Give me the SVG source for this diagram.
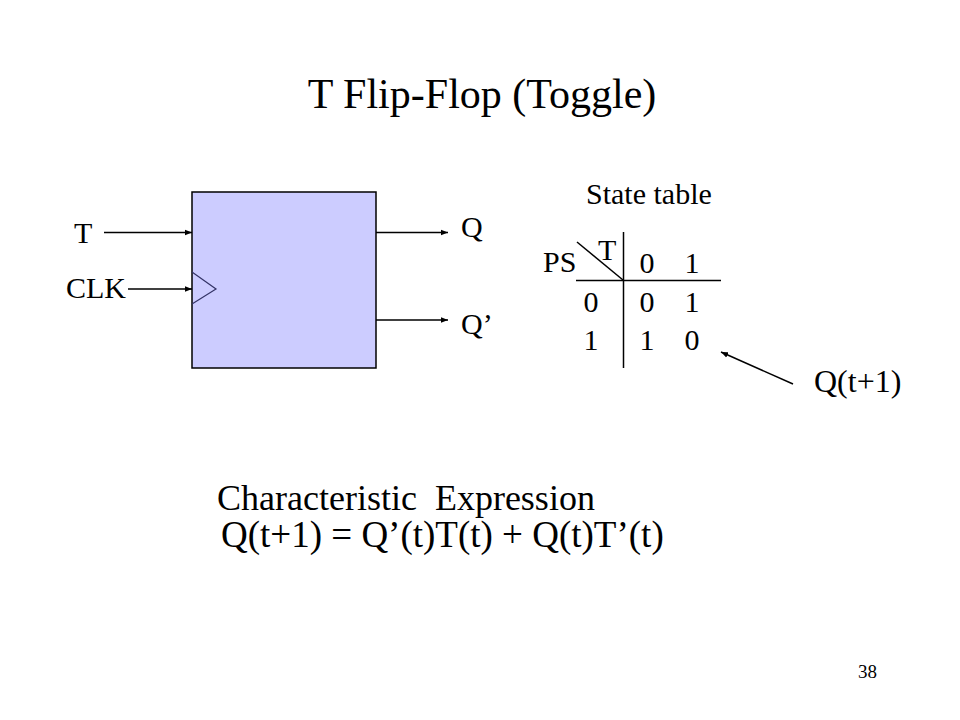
<svg xmlns="http://www.w3.org/2000/svg" width="960" height="720" viewBox="0 0 960 720">
<defs>
<style>
text{font-family:"Liberation Serif","Times New Roman",serif;fill:#000;white-space:pre}
.t42{font-size:42px}
.t36{font-size:36px}
.t37{font-size:37px}
.t32{font-size:32px}
.t30{font-size:30px}
.t19{font-size:19px}
.m{text-anchor:middle}
.ln{stroke:#000;stroke-width:1.5;fill:none}
.arr{stroke:#000;stroke-width:1.5;fill:none;marker-end:url(#ah)}
</style>
<marker id="ah" viewBox="0 0 10 10" refX="10" refY="5" markerWidth="7" markerHeight="7" orient="auto" markerUnits="userSpaceOnUse">
<path d="M0,1 L10,5 L0,9 Z" fill="#000"/>
</marker>
</defs>
<rect width="960" height="720" fill="#fff"/>
<text id="title" class="t42 m" x="482" y="108">T Flip-Flop (Toggle)</text>

<g id="flipflop">
<rect x="192" y="192" width="184" height="176" fill="#ccccff" stroke="#000" stroke-width="1.5"/>
<polyline points="192,272 216,289 192,304" fill="none" stroke="#333366" stroke-width="1.2"/>
</g>
<g id="label-T"><text class="t30" x="74" y="243">T</text></g>
<g id="label-CLK"><text class="t30" x="66" y="298">CLK</text></g>
<g id="label-Q"><text class="t30" x="461" y="237">Q</text></g>
<g id="label-Qn"><text class="t30" x="461" y="334">Q’</text></g>

<g id="connectors">
<line class="arr" x1="104" y1="232.5" x2="192" y2="232.5"/>
<line class="arr" x1="128" y1="289" x2="192" y2="289"/>
<line class="arr" x1="376" y1="232.5" x2="448" y2="232.5"/>
<line class="arr" x1="376" y1="320" x2="448" y2="320"/>
<line class="arr" x1="793" y1="384" x2="721" y2="352"/>
</g>

<g id="state-table">
<text class="t30" x="586" y="204">State table</text>
<line class="ln" x1="623.5" y1="232" x2="623.5" y2="368"/>
<line class="ln" x1="576" y1="280.5" x2="721" y2="280.5"/>
<line class="ln" x1="577" y1="242" x2="623" y2="280"/>
<text class="t30" x="543" y="272">PS</text>
<text class="t30" x="598" y="260">T</text>
<text class="t30 m" x="647" y="273">0</text>
<text class="t30 m" x="692" y="273">1</text>
<text class="t30 m" x="591" y="312">0</text>
<text class="t30 m" x="647" y="312">0</text>
<text class="t30 m" x="692" y="312">1</text>
<text class="t30 m" x="591" y="350">1</text>
<text class="t30 m" x="647" y="350">1</text>
<text class="t30 m" x="692" y="350">0</text>
</g>
<g id="label-next"><text class="t32" x="814" y="392">Q(t+1)</text></g>

<g id="expression">
<text class="t36" x="217" y="510">Characteristic  Expression</text>
<text class="t37" x="221" y="547">Q(t+1) = Q’(t)T(t) + Q(t)T’(t)</text>
</g>
<text id="page" class="t19" x="858" y="678">38</text>
</svg>
